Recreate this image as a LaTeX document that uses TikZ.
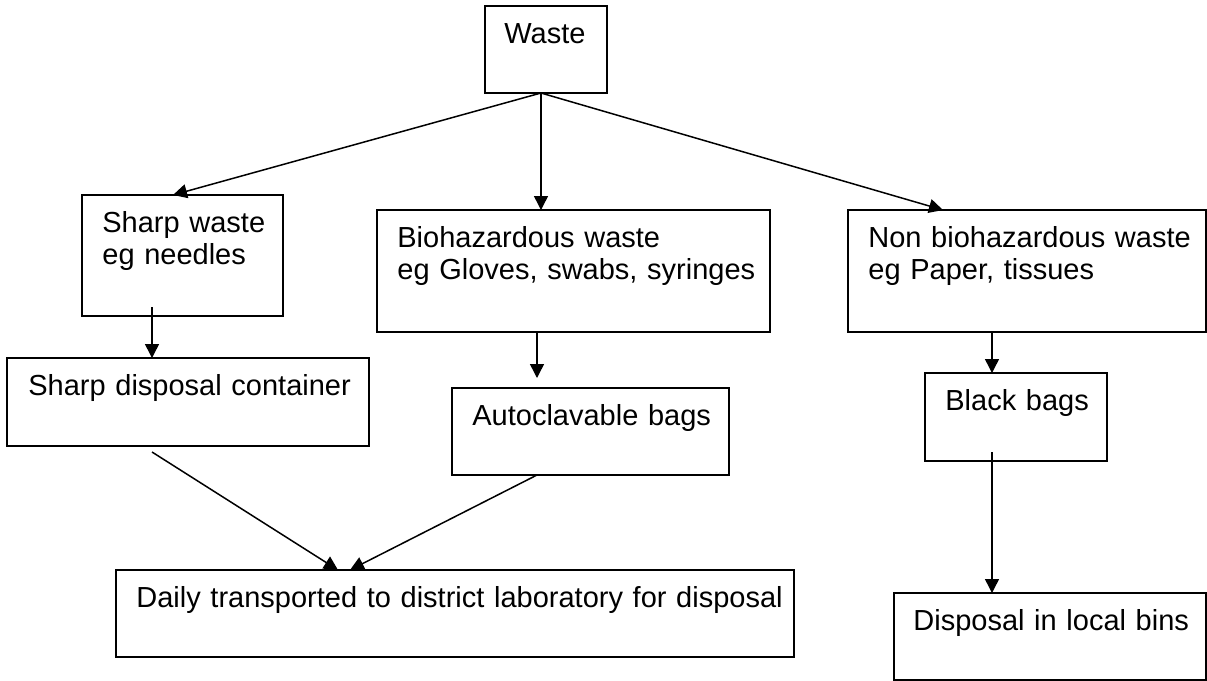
\documentclass[tikz,border=0pt]{standalone}
\usepackage{fontspec}
\setmainfont{Liberation Sans}
\usetikzlibrary{arrows.meta}

\begin{document}
\begin{tikzpicture}[x=0.5pt,y=-0.5pt,
  box/.style={draw,line width=0.75pt,anchor=north west,inner sep=0pt,outer sep=0pt},
  txt/.style={anchor=base west,inner sep=0pt,text width=340pt,align=left,font=\fontsize{14.5}{16}\selectfont},
  arr/.style={line width=0.75pt,-{Triangle[length=7pt,width=7pt]}}]
\useasboundingbox (0,0) rectangle (1207,681);
% boxes
\node[box,minimum width=61pt,minimum height=43.5pt] at (485,6) (waste) {};
\node[box,minimum width=100.5pt,minimum height=60.5pt] at (82,195) (sharp) {};
\node[box,minimum width=196.5pt,minimum height=61pt] at (377,210) (bio) {};
\node[box,minimum width=179pt,minimum height=61pt] at (848,210) (nonbio) {};
\node[box,minimum width=181pt,minimum height=44pt] at (7,358) (sdc) {};
\node[box,minimum width=138.5pt,minimum height=43.5pt] at (452,388) (auto) {};
\node[box,minimum width=91pt,minimum height=44pt] at (925,373) (black) {};
\node[box,minimum width=339pt,minimum height=43.5pt] at (116,570) (daily) {};
\node[box,minimum width=156pt,minimum height=43.5pt] at (894,593) (bins) {};
% texts
\node[txt] at ([shift={(19,37)}]waste.north west) (wastetxt) {Waste};
\node[txt] at ([shift={(20,37)}]sharp.north west) (sharptxt) {Sharp waste\\eg needles};
\node[txt] at ([shift={(20,37)}]bio.north west) (biotxt) {Biohazardous waste\\eg Gloves, swabs, syringes};
\node[txt] at ([shift={(20,37)}]nonbio.north west) (nonbiotxt) {Non biohazardous waste\\eg Paper, tissues};
\node[txt] at ([shift={(21,37)}]sdc.north west) (sdctxt) {Sharp disposal container};
\node[txt] at ([shift={(20,37)}]auto.north west) (autotxt) {Autoclavable bags};
\node[txt] at ([shift={(20,37)}]black.north west) (blacktxt) {Black bags};
\node[txt] at ([shift={(20,37)}]daily.north west) (dailytxt) {Daily transported to district laboratory for disposal};
\node[txt] at ([shift={(19,37)}]bins.north west) (binstxt) {Disposal in local bins};
% arrows from waste
\coordinate (fork) at ([shift={(-5,0)}]waste.south);
\draw[arr] (fork) -- ([shift={(91,0)}]sharp.north west);
\draw[arr] (fork) -- ([shift={(164,0)}]bio.north west);
\draw[arr] (fork) -- ([shift={(95,0)}]nonbio.north west);
% down the branches
\draw[arr] ([shift={(70,-9)}]sharp.south west) -- ([shift={(145,0)}]sdc.north west);
\draw[arr] ([shift={(160,0)}]bio.south west) -- ([shift={(85,-10)}]auto.north west);
\draw[arr] ([shift={(144,0)}]nonbio.south west) -- ([shift={(67,0)}]black.north west);
\draw[arr] ([shift={(67,-9)}]black.south west) -- ([shift={(98,0)}]bins.north west);
% into the transport box
\draw[arr] ([shift={(145,6)}]sdc.south west) -- ([shift={(222,0)}]daily.north west);
\draw[arr] ([shift={(85,0)}]auto.south west) -- ([shift={(234,0)}]daily.north west);
\end{tikzpicture}
\end{document}
